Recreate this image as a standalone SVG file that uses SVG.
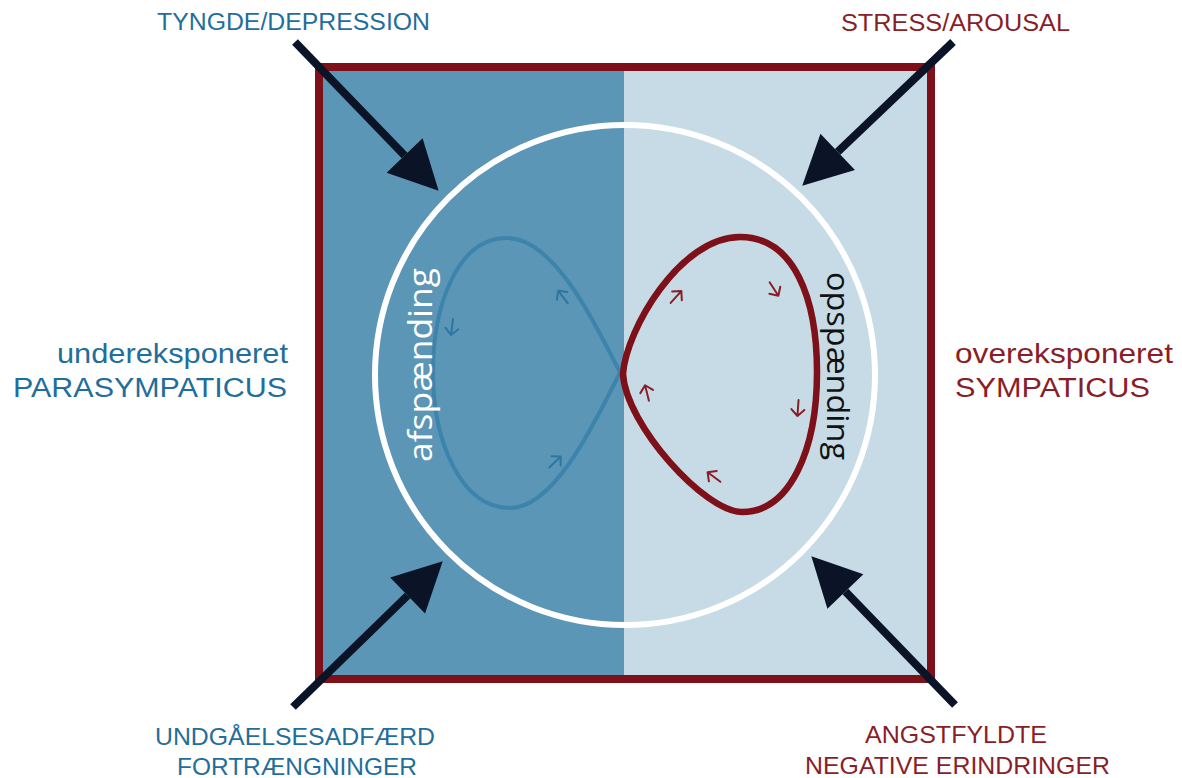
<svg xmlns="http://www.w3.org/2000/svg" width="1182" height="778" viewBox="0 0 1182 778">
  <style>
    .lbl { font-family: "Liberation Sans", Arial, sans-serif; }
    .loop-lbl { font-family: "Open Sans", "Liberation Sans", sans-serif; }
    .blue-txt { fill: #1f6e9c; }
    .red-txt { fill: #8a1e27; }
    .big-arrow { stroke: #0b1426; stroke-width: 8; fill: none; }
    .tick-red { stroke: #8a1e27; stroke-width: 2; fill: none; stroke-linecap: round; stroke-linejoin: round; }
    .tick-blue { stroke: #2e76a0; stroke-width: 2; fill: none; stroke-linecap: round; stroke-linejoin: round; }
  </style>
  <defs>
    <marker id="head" markerUnits="userSpaceOnUse" markerWidth="60" markerHeight="60" refX="0" refY="0" viewBox="-2 -30 60 60" orient="auto" overflow="visible">
      <path d="M0,-25 L49,0 L0,25 Z" fill="#0b1426"/>
    </marker>
    <clipPath id="leftHalf">
      <rect x="319" y="67" width="305" height="612"/>
    </clipPath>
    <!-- small direction tick, pointing along +x -->
    <path id="tick" d="M-8,0 L8,0 M1.5,-6.5 L8,0 L1.5,6.5"/>
  </defs>

  <!-- field: two halves inside the framed square -->
  <g id="field">
    <rect x="319" y="67" width="305" height="612" fill="#5b96b6"/>
    <rect x="624" y="67" width="307" height="612" fill="#c6dbe5"/>
    <rect x="319" y="67" width="612" height="612" fill="none" stroke="#7e1019" stroke-width="8"/>
  </g>

  <!-- balance circle -->
  <g id="circle">
    <circle cx="625" cy="375" r="250" fill="none" stroke="#ffffff" stroke-width="6"/>
  </g>

  <!-- parasympathetic loop -->
  <g id="loop-afspaending">
    <path clip-path="url(#leftHalf)" d="M630,392 C605,345 560,238 507,238 C455,238 433,310 433,372 C433,440 460,508 510,508 C560,508 605,400 630,353" fill="none" stroke="#3d84ad" stroke-width="4"/>
    <use href="#tick" class="tick-blue" transform="translate(563,297) rotate(-127)"/>
    <use href="#tick" class="tick-blue" transform="translate(452,327) rotate(97)"/>
    <use href="#tick" class="tick-blue" transform="translate(555,462) rotate(-44)"/>
    <text class="loop-lbl" x="0" y="0" font-size="33" fill="#ffffff" text-anchor="middle" textLength="194" lengthAdjust="spacingAndGlyphs" transform="translate(432,365) rotate(-90)">afspænding</text>
  </g>

  <!-- sympathetic loop -->
  <g id="loop-opspaending">
    <path d="M623,374 C626,330 680,237 740,237 C795,237 817,300 817,372 C817,450 790,512 742,512 C705,512 626,425 623,374 Z" fill="none" stroke="#7e1019" stroke-width="6.5" stroke-linejoin="round"/>
    <use href="#tick" class="tick-red" transform="translate(676,297) rotate(-48)"/>
    <use href="#tick" class="tick-red" transform="translate(774,289) rotate(57)"/>
    <use href="#tick" class="tick-red" transform="translate(798,408) rotate(94)"/>
    <use href="#tick" class="tick-red" transform="translate(714,477) rotate(-143)"/>
    <use href="#tick" class="tick-red" transform="translate(647,393) rotate(-104)"/>
    <text class="loop-lbl" x="0" y="0" font-size="31" fill="#111111" text-anchor="middle" textLength="188" lengthAdjust="spacingAndGlyphs" transform="translate(827,366) rotate(90)">opspænding</text>
  </g>

  <!-- pressure arrows -->
  <g id="connectors">
    <line class="big-arrow" x1="295" y1="42" x2="404.6" y2="155.5" marker-end="url(#head)"/>
    <line class="big-arrow" x1="953" y1="42" x2="837.7" y2="151.9" marker-end="url(#head)"/>
    <line class="big-arrow" x1="293" y1="707" x2="407.6" y2="595.5" marker-end="url(#head)"/>
    <line class="big-arrow" x1="955" y1="705" x2="845.4" y2="591.5" marker-end="url(#head)"/>
  </g>

  <!-- labels -->
  <g id="label-tyngde">
    <text class="lbl blue-txt" x="157" y="30" font-size="23" textLength="273" lengthAdjust="spacingAndGlyphs">TYNGDE/DEPRESSION</text>
  </g>
  <g id="label-stress">
    <text class="lbl red-txt" x="841" y="31" font-size="23" textLength="229" lengthAdjust="spacingAndGlyphs">STRESS/AROUSAL</text>
  </g>
  <g id="label-parasympaticus">
    <text class="lbl blue-txt" x="57" y="363" font-size="28" textLength="231" lengthAdjust="spacingAndGlyphs">undereksponeret</text>
    <text class="lbl blue-txt" x="13" y="397" font-size="27" textLength="274" lengthAdjust="spacingAndGlyphs">PARASYMPATICUS</text>
  </g>
  <g id="label-sympaticus">
    <text class="lbl red-txt" x="955" y="363" font-size="28" textLength="218" lengthAdjust="spacingAndGlyphs">overeksponeret</text>
    <text class="lbl red-txt" x="955" y="397" font-size="27" textLength="195" lengthAdjust="spacingAndGlyphs">SYMPATICUS</text>
  </g>
  <g id="label-undgaaelse">
    <text class="lbl blue-txt" x="155" y="745" font-size="24" textLength="280" lengthAdjust="spacingAndGlyphs">UNDGÅELSESADFÆRD</text>
    <text class="lbl blue-txt" x="177" y="775" font-size="24" textLength="240" lengthAdjust="spacingAndGlyphs">FORTRÆNGNINGER</text>
  </g>
  <g id="label-angst">
    <text class="lbl red-txt" x="865" y="743" font-size="24" textLength="182" lengthAdjust="spacingAndGlyphs">ANGSTFYLDTE</text>
    <text class="lbl red-txt" x="805" y="774" font-size="24" textLength="305" lengthAdjust="spacingAndGlyphs">NEGATIVE ERINDRINGER</text>
  </g>
</svg>
